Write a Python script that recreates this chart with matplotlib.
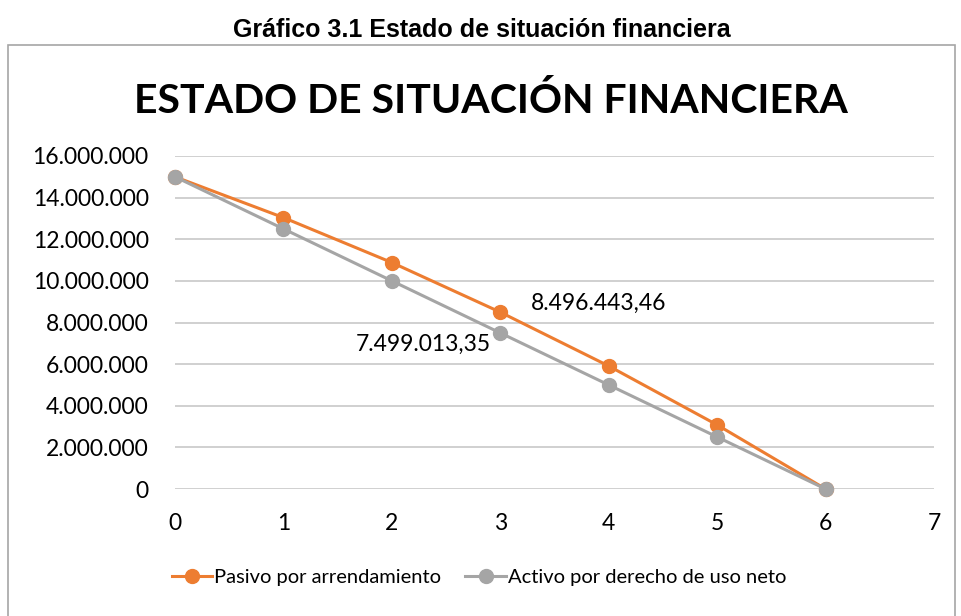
import matplotlib.pyplot as plt
from matplotlib.patches import Rectangle
from matplotlib.ticker import FuncFormatter

# datos
periodos = [0, 1, 2, 3, 4, 5, 6]
pasivo = [15000000, 13040000, 10880000, 8496443.46, 5910000, 3080000, 0]
activo = [15000000, 12500000, 10000000, 7499013.35, 5000000, 2500000, 0]
etiquetas = {"pasivo": "8.496.443,46", "activo": "7.499.013,35"}

naranja = "#ED7D31"
gris = "#A5A5A5"
fuente = "Lato"

fig = plt.figure(figsize=(9.62, 6.16), dpi=100)

# marco del grafico
fig.patches.append(Rectangle((8/962, -0.05), 947/962, 1.05 - 45/616, transform=fig.transFigure,
                             fill=False, edgecolor="#a6a6a6", linewidth=1.2))
fig.text(482/962, 1 - 30/616, "Gráfico 3.1 Estado de situación financiera", ha="center", va="center",
         fontsize=18, fontweight="bold", family="Liberation Sans")
fig.text(491/962, 1 - 101/616, "ESTADO DE SITUACIÓN FINANCIERA", ha="center", va="center",
         fontsize=29.5, fontweight="bold", family=fuente)

ax = fig.add_axes([175/962, 1 - 489/616, 759/962, 333/616])
l1, = ax.plot(periodos, pasivo, color=naranja, lw=2.2, marker="o", ms=10, zorder=3)
l2, = ax.plot(periodos, activo, color=gris, lw=2.2, marker="o", ms=10, zorder=3)

ax.annotate(etiquetas["pasivo"], (periodos[3], pasivo[3]), xytext=(22, 6), textcoords="offset points",
            ha="left", va="center", fontsize=16.5, family=fuente)
ax.annotate(etiquetas["activo"], (periodos[3], activo[3]), xytext=(-7, -8), textcoords="offset points",
            ha="right", va="center", fontsize=16.5, family=fuente)

ax.set_xlim(0, 7)
ax.set_ylim(0, 16000000)
ax.set_xticks(range(0, 8))
ax.set_yticks(range(0, 16000001, 2000000))
ax.yaxis.set_major_formatter(FuncFormatter(lambda v, p: f"{int(v):,}".replace(",", ".")))
ax.grid(axis="y", color="#c8c8c8", lw=1.2)
ax.set_axisbelow(True)
for s in ax.spines.values():
    s.set_visible(False)
ax.tick_params(length=0, labelsize=16.5)
ax.tick_params(axis="y", pad=19)
ax.tick_params(axis="x", pad=17)
for t in ax.get_xticklabels() + ax.get_yticklabels():
    t.set_family(fuente)
for l in (l1, l2):
    l.set_clip_on(False)

fig.legend([l1, l2], ["Pasivo por arrendamiento", "Activo por derecho de uso neto"],
           loc="center", bbox_to_anchor=(479/962, 1 - 577/616), ncol=2, frameon=False,
           prop={"family": fuente, "size": 14.5}, handlelength=2.0, handletextpad=0.1, columnspacing=1.2)

fig.savefig("out.png", dpi=100)
